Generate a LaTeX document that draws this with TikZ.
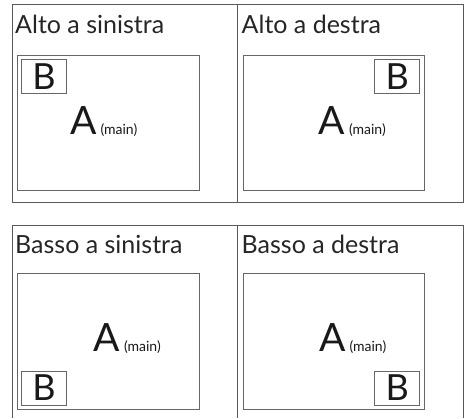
\documentclass[tikz,border=0pt]{standalone}
\usepackage{fontspec}
\setmainfont{Lato}
\usetikzlibrary{positioning}
\tikzset{
  frame/.style={draw=black!65,line width=0.9pt},
  panel/.style={draw=black!60,line width=0.9pt},
  title/.style={anchor=base west,inner sep=0pt,font=\fontsize{25}{25}\selectfont,text=black!85},
  bigA/.style={anchor=base west,inner sep=0pt,font=\fontsize{39}{39}\selectfont,text=black!90},
  tag/.style={anchor=base west,inner sep=0pt,font=\fontsize{14}{14}\selectfont,text=black!90},
  bbox/.style={draw=black!60,line width=0.9pt,minimum width=45pt,minimum height=34pt,inner sep=0pt,
    font=\fontsize{36}{36}\selectfont,text=black!90}
}
\begin{document}
\begin{tikzpicture}[x=1pt,y=-1pt]
\useasboundingbox (0,0) rectangle (465,418);
% outer frames
\coordinate (TL) at (12,4.7);
\coordinate (TR) at (463.3,202);
\coordinate (BL) at (12,225);
\draw[frame] (TL) rectangle (TR);
\draw[frame] (237.3,4.7) -- (237.3,202);
\draw[frame] (12,418) -- (BL) -- (463.3,225) -- (463.3,418);
\draw[frame] (237.3,225) -- (237.3,418);
% panels
\draw[panel] (17.7,55.7) rectangle (199,190.7);
\draw[panel] (243.3,55.7) rectangle (424,190.7);
\draw[panel] (17.7,273.3) rectangle (199,409);
\draw[panel] (243.3,273.3) rectangle (424,409);
% titles
\node[title] (t1) at (15,33.3) {Alto a sinistra};
\node[title] (t2) at (241.5,33.3) {Alto a destra};
\node[title] (t3) at (15,253.3) {Basso a sinistra};
\node[title] (t4) at (241.5,253.3) {Basso a destra};
% main windows
\node[bigA] (a1) at (70,134.3) {A};
\node[tag] (m1) at ([xshift=3.5]a1.base east) {(main)};
\node[bigA] (a2) at (318.5,134.3) {A};
\node[tag] (m2) at ([xshift=3.5]a2.base east) {(main)};
\node[bigA] (a3) at (93.5,351.7) {A};
\node[tag] (m3) at ([xshift=3.5]a3.base east) {(main)};
\node[bigA] (a4) at (319,351.7) {A};
\node[tag] (m4) at ([xshift=3.5]a4.base east) {(main)};
% sub windows
\node[bbox] (b1) at (44,76.3) {B};
\node[bbox] (b2) at (397.3,76.3) {B};
\node[bbox] (b3) at (44,388) {B};
\node[bbox] (b4) at (397.3,388) {B};
\end{tikzpicture}
\end{document}
